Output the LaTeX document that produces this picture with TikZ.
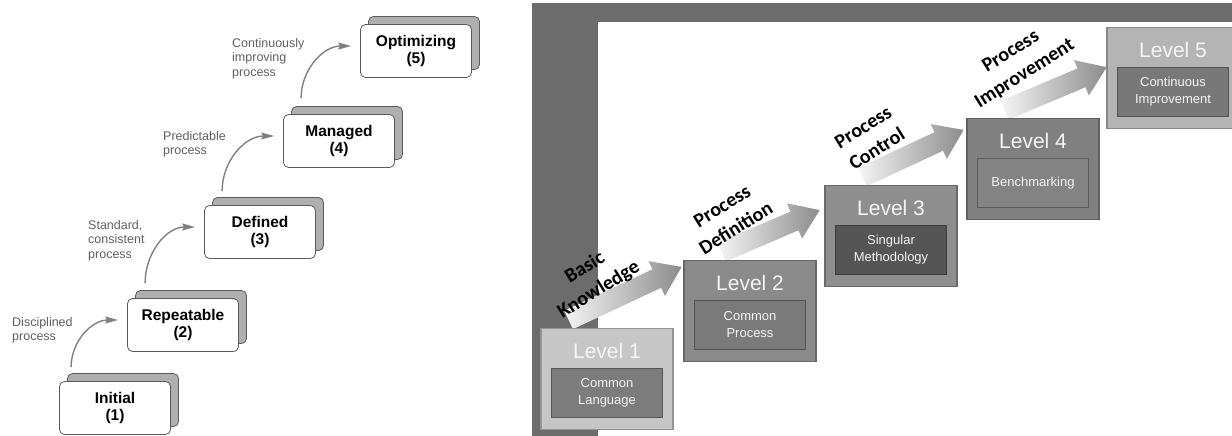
\documentclass[tikz,border=0pt]{standalone}
\usepackage{fontspec}
\setmainfont{Liberation Sans}
\newfontfamily\phasefont{Carlito}
\usepackage{tikz}
\usetikzlibrary{shapes.arrows, shadows, arrows.meta, positioning, calc}
\definecolor{cardedge}{RGB}{90,90,90}
\definecolor{cardback}{RGB}{175,175,175}
\definecolor{labelgray}{RGB}{95,95,95}
\definecolor{arrowgray}{RGB}{128,128,128}
\definecolor{framegray}{RGB}{108,108,108}
\definecolor{arrowlight}{RGB}{245,245,245}
\definecolor{arrowdark}{RGB}{140,140,140}
\definecolor{lvone}{RGB}{198,198,198}
\definecolor{lvtwo}{RGB}{138,138,138}
\definecolor{lvthree}{RGB}{142,142,142}
\definecolor{lvfour}{RGB}{128,128,128}
\definecolor{lvfive}{RGB}{180,180,180}
\definecolor{inone}{RGB}{124,124,124}
\definecolor{intwo}{RGB}{122,122,122}
\definecolor{inthree}{RGB}{85,85,85}
\definecolor{infour}{RGB}{131,131,131}
\definecolor{infive}{RGB}{120,120,120}
\tikzset{
  card/.style={rectangle, draw=cardedge, fill=white, rounded corners=5pt,
    line width=0.8pt, minimum width=111pt, minimum height=53pt, align=center,
    font=\fontsize{15.5}{17}\selectfont\bfseries,
    copy shadow={shadow xshift=8pt, shadow yshift=8pt, fill=cardback, draw=cardedge}},
  steplabel/.style={anchor=north west, align=left, inner sep=0pt,
    font=\fontsize{12.5}{14.5}\selectfont, text=labelgray},
  steparrow/.style={-{Stealth[length=13pt, width=7pt, inset=2pt]},
    line width=1.4pt, color=arrowgray},
  lvlouter/.style={rectangle, minimum width=132pt, minimum height=101pt,
    line width=1.5pt, inner sep=0pt},
  lvlinner/.style={rectangle, minimum width=111pt, minimum height=49pt,
    align=center, text=white!92!gray, font=\fontsize{13}{17}\selectfont,
    line width=1pt, inner sep=0pt},
  lvltitle/.style={font=\fontsize{21}{24}\selectfont, text=white!92!gray},
  bigarrow/.style={single arrow, single arrow head extend=9pt,
    single arrow tip angle=70, inner sep=10pt, draw=none,
    left color=arrowlight, right color=arrowdark},
  phase/.style={font=\phasefont\bfseries\fontsize{20}{26}\selectfont,
    align=center, rotate=32}
}

\begin{document}
\begin{tikzpicture}[x=1pt, y=-1pt]
  \useasboundingbox (0,0) rectangle (1232,436);

  % Maturity steps
  \node[card] (init) at (115,408) {Initial\\(1)};
  \node[card] (rep)  at (183,325) {Repeatable\\(2)};
  \node[card] (def)  at (260,232) {Defined\\(3)};
  \node[card] (man)  at (339,141) {Managed\\(4)};
  \node[card] (opt)  at (416,51)  {Optimizing\\(5)};

  \draw[steparrow] ([xshift=12pt,yshift=14pt]init.north west) to[out=90, in=180] ([xshift=-9pt,yshift=5pt]rep.west);
  \draw[steparrow] ([xshift=18pt,yshift=15pt]rep.north west) to[out=90, in=180] ([xshift=-9pt,yshift=5pt]def.west);
  \draw[steparrow] ([xshift=18pt,yshift=14pt]def.north west) to[out=90, in=180] ([xshift=-9pt,yshift=5pt]man.west);
  \draw[steparrow] ([xshift=18pt,yshift=16pt]man.north west) to[out=90, in=180] ([xshift=-9pt,yshift=5pt]opt.west);

  \node[steplabel] (l1) at (12,317)  {Disciplined\\process};
  \node[steplabel] (l2) at (88,220)  {Standard,\\consistent\\process};
  \node[steplabel] (l3) at (163,131) {Predictable\\process};
  \node[steplabel] (l4) at (232,38)  {Continuously\\improving\\process};

  % Frame
  \fill[framegray] (532,3) rectangle (1232,22);
  \fill[framegray] (532,3) rectangle (598,436);

  % Levels (outer boxes, positions only)
  \coordinate (c1) at (607,379);
  \coordinate (c2) at (750,311);
  \coordinate (c3) at (891,236);
  \coordinate (c4) at (1033,169);
  \coordinate (c5) at (1173,78);

  % Arrows between levels
  \coordinate (t1) at ($(c1)+(-45,-56)$);
  \coordinate (h1) at (675,270);
  \coordinate (t2) at ($(c2)+(-35,-56)$);
  \coordinate (h2) at (813,213);
  \coordinate (t3) at ($(c3)+(-35,-56)$);
  \coordinate (h3) at (957,133);
  \coordinate (t4) at ($(c4)+(-35,-56)$);
  \coordinate (h4) at (1100,70);
  \path let \p1=($(h1)-(t1)$), \n1={atan2(\y1,\x1)}, \n2={veclen(\x1,\y1)} in
    node[bigarrow, minimum height=\n2, rotate=\n1] (ar1) at ($(t1)!0.5!(h1)$) {};
  \path let \p1=($(h2)-(t2)$), \n1={atan2(\y1,\x1)}, \n2={veclen(\x1,\y1)} in
    node[bigarrow, minimum height=\n2, rotate=\n1] (ar2) at ($(t2)!0.5!(h2)$) {};
  \path let \p1=($(h3)-(t3)$), \n1={atan2(\y1,\x1)}, \n2={veclen(\x1,\y1)} in
    node[bigarrow, minimum height=\n2, rotate=\n1] (ar3) at ($(t3)!0.5!(h3)$) {};
  \path let \p1=($(h4)-(t4)$), \n1={atan2(\y1,\x1)}, \n2={veclen(\x1,\y1)} in
    node[bigarrow, minimum height=\n2, rotate=\n1] (ar4) at ($(t4)!0.5!(h4)$) {};

  \node[lvlouter, fill=lvone, draw=lvone!75!black]     (lv1) at (c1) {};
  \node[lvlouter, fill=lvtwo, draw=lvtwo!75!black]     (lv2) at (c2) {};
  \node[lvlouter, fill=lvthree, draw=lvthree!75!black] (lv3) at (c3) {};
  \node[lvlouter, fill=lvfour, draw=lvfour!75!black]   (lv4) at (c4) {};
  \node[lvlouter, fill=lvfive, draw=lvfive!75!black]   (lv5) at (c5) {};

  \node[lvltitle] (lv1t) at ([yshift=28pt]lv1.center) {Level 1};
  \node[lvltitle] (lv2t) at ([yshift=28pt]lv2.center) {Level 2};
  \node[lvltitle] (lv3t) at ([yshift=28pt]lv3.center) {Level 3};
  \node[lvltitle] (lv4t) at ([yshift=28pt]lv4.center) {Level 4};
  \node[lvltitle] (lv5t) at ([yshift=28pt]lv5.center) {Level 5};

  \node[lvlinner, fill=inone, draw=inone!70!black]     (lv1i) at ([yshift=-14pt]lv1.center) {Common\\Language};
  \node[lvlinner, fill=intwo, draw=intwo!70!black]     (lv2i) at ([yshift=-14pt]lv2.center) {Common\\Process};
  \node[lvlinner, fill=inthree, draw=inthree!70!black] (lv3i) at ([yshift=-14pt]lv3.center) {Singular\\Methodology};
  \node[lvlinner, fill=infour, draw=infour!70!black]   (lv4i) at ([yshift=-14pt]lv4.center) {Benchmarking};
  \node[lvlinner, fill=infive, draw=infive!70!black]   (lv5i) at ([yshift=-14pt]lv5.center) {Continuous\\Improvement};

  % Phase labels
  \node[phase] (p1) at (592,279)  {Basic\\Knowledge};
  \node[phase] (p2) at (729,217)  {Process\\Definition};
  \node[phase] (p3) at (870,138)  {Process\\Control};
  \node[phase] (p4) at (1018,63)  {Process\\Improvement};
\end{tikzpicture}
\end{document}
